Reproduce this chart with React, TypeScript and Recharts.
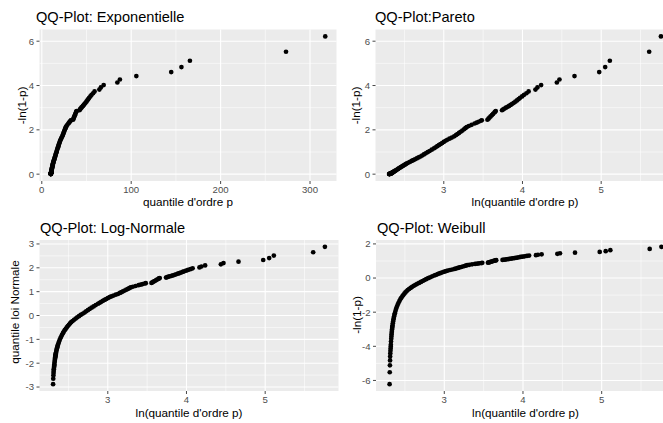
import { ScatterChart, Scatter, XAxis, YAxis, CartesianGrid } from "recharts";

// ln of the sorted sample values, one per plotted rank (n = 500, thinned where the cloud is dense)
const lnQuantile = [
  2.305, 2.307, 2.309, 2.311, 2.312, 2.314, 2.316, 2.318, 2.320, 2.321,
  2.323, 2.326, 2.328, 2.330, 2.332, 2.334, 2.336, 2.338, 2.340, 2.342,
  2.346, 2.350, 2.354, 2.358, 2.362, 2.367, 2.372, 2.380, 2.388, 2.397,
  2.408, 2.419, 2.430, 2.441, 2.453, 2.466, 2.479, 2.492, 2.506, 2.520,
  2.535, 2.553, 2.572, 2.592, 2.612, 2.634, 2.656, 2.680, 2.704, 2.725,
  2.747, 2.770, 2.795, 2.820, 2.847, 2.876, 2.896, 2.917, 2.938, 2.958,
  2.979, 3.000, 3.023, 3.045, 3.073, 3.102, 3.132, 3.155, 3.174, 3.194,
  3.214, 3.236, 3.257, 3.274, 3.291, 3.318, 3.353, 3.391, 3.418, 3.443,
  3.470, 3.483, 3.555, 3.568, 3.581, 3.595, 3.611, 3.626, 3.643, 3.652,
  3.660, 3.740, 3.755, 3.772, 3.790, 3.810, 3.830, 3.850, 3.870, 3.890,
  3.910, 3.930, 3.950, 3.970, 3.995, 4.020, 4.050, 4.078, 4.165, 4.190,
  4.237, 4.437, 4.470, 4.661, 4.975, 5.051, 5.110, 5.610, 5.759,
];

// -ln(1-p) at the same ranks
const expScore = [
  0.002, 0.004, 0.006, 0.008, 0.010, 0.012, 0.014, 0.016, 0.018, 0.020,
  0.024, 0.028, 0.032, 0.037, 0.041, 0.045, 0.049, 0.053, 0.058, 0.062,
  0.070, 0.079, 0.088, 0.096, 0.105, 0.116, 0.128, 0.146, 0.165, 0.186,
  0.210, 0.235, 0.261, 0.287, 0.314, 0.342, 0.370, 0.399, 0.430, 0.461,
  0.493, 0.526, 0.561, 0.596, 0.633, 0.671, 0.711, 0.753, 0.796, 0.841,
  0.889, 0.938, 0.991, 1.046, 1.105, 1.167, 1.213, 1.261, 1.311, 1.357,
  1.404, 1.454, 1.507, 1.553, 1.601, 1.652, 1.706, 1.762, 1.810, 1.860,
  1.913, 1.968, 2.027, 2.073, 2.122, 2.174, 2.228, 2.285, 2.325, 2.366,
  2.410, 2.432, 2.455, 2.503, 2.553, 2.606, 2.661, 2.720, 2.783, 2.815,
  2.849, 2.884, 2.921, 2.959, 2.998, 3.039, 3.081, 3.126, 3.172, 3.221,
  3.272, 3.326, 3.383, 3.444, 3.509, 3.578, 3.652, 3.732, 3.819, 3.914,
  4.019, 4.137, 4.271, 4.425, 4.607, 4.830, 5.118, 5.523, 6.217,
];

// standard normal quantile of p
const normScore = [
  -2.878, -2.652, -2.512, -2.409, -2.327, -2.259, -2.198, -2.145, -2.098, -2.054,
  -1.978, -1.911, -1.853, -1.800, -1.752, -1.707, -1.665, -1.626, -1.590, -1.556,
  -1.492, -1.434, -1.379, -1.330, -1.283, -1.228, -1.176, -1.100, -1.029, -0.956,
  -0.880, -0.808, -0.740, -0.676, -0.614, -0.555, -0.498, -0.441, -0.387, -0.334,
  -0.281, -0.230, -0.179, -0.128, -0.078, -0.028, 0.023, 0.073, 0.123, 0.174,
  0.224, 0.276, 0.329, 0.382, 0.436, 0.492, 0.532, 0.573, 0.614, 0.651,
  0.689, 0.727, 0.767, 0.801, 0.836, 0.872, 0.909, 0.947, 0.979, 1.012,
  1.046, 1.082, 1.118, 1.147, 1.176, 1.206, 1.238, 1.271, 1.294, 1.318,
  1.342, 1.354, 1.367, 1.393, 1.420, 1.447, 1.477, 1.507, 1.539, 1.556,
  1.573, 1.590, 1.608, 1.627, 1.646, 1.665, 1.686, 1.707, 1.729, 1.752,
  1.776, 1.800, 1.826, 1.852, 1.881, 1.912, 1.944, 1.978, 2.015, 2.054,
  2.098, 2.145, 2.198, 2.259, 2.327, 2.409, 2.512, 2.652, 2.878,
];

// ln(-ln(1-p))
const weibullScore = [
  -6.216, -5.521, -5.115, -4.826, -4.602, -4.419, -4.264, -4.129, -4.010, -3.904,
  -3.720, -3.563, -3.428, -3.308, -3.200, -3.103, -3.014, -2.932, -2.856, -2.785,
  -2.655, -2.540, -2.436, -2.340, -2.252, -2.152, -2.059, -1.925, -1.805, -1.683,
  -1.559, -1.447, -1.344, -1.248, -1.158, -1.074, -0.994, -0.918, -0.845, -0.775,
  -0.707, -0.642, -0.579, -0.517, -0.457, -0.398, -0.341, -0.284, -0.228, -0.173,
  -0.118, -0.064, -0.009, 0.045, 0.100, 0.154, 0.193, 0.232, 0.271, 0.305,
  0.340, 0.375, 0.410, 0.440, 0.471, 0.502, 0.534, 0.567, 0.593, 0.621,
  0.648, 0.677, 0.707, 0.729, 0.753, 0.776, 0.801, 0.826, 0.844, 0.861,
  0.880, 0.889, 0.898, 0.918, 0.937, 0.958, 0.979, 1.001, 1.023, 1.035,
  1.047, 1.059, 1.072, 1.085, 1.098, 1.111, 1.125, 1.140, 1.154, 1.170,
  1.186, 1.202, 1.219, 1.237, 1.255, 1.275, 1.295, 1.317, 1.340, 1.365,
  1.391, 1.420, 1.452, 1.487, 1.528, 1.575, 1.633, 1.709, 1.827,
];

const quantileTicks = [0, 100, 200, 300];
const quantileMinor = [50, 150, 250];
const lnTicks = [3, 4, 5];
const lnMinor = [2.5, 3.5, 4.5, 5.5];
const expTicks = [0, 2, 4, 6];
const expMinor = [1, 3, 5];
const normTicks = [-3, -2, -1, 0, 1, 2, 3];
const normMinor = [-2.5, -1.5, -0.5, 0.5, 1.5, 2.5];
const weibullTicks = [-6, -4, -2, 0, 2];
const weibullMinor = [-5, -3, -1, 1];

const FONT = "Liberation Sans, Arial, Helvetica, sans-serif";
const ROW_H = 211.5;

// ggplot-style expansion of the data range (5% by default)
const expand = (v: number[], mult = 0.05): [number, number] => {
  const lo = Math.min(...v);
  const hi = Math.max(...v);
  const d = (hi - lo) * mult;
  return [lo - d, hi + d];
};

const Dot = (props: any) => <circle cx={props.cx} cy={props.cy} r={2.35} fill="#000" />;

const tickStyle = { fill: "#4D4D4D", fontSize: 9.6, fontFamily: FONT };
const tickLineStyle = { stroke: "#333333", strokeWidth: 0.9 };

type PanelProps = {
  left: number;
  top: number;
  plotLeft: number;
  plotRight: number;
  plotTop: number;
  plotBottom: number;
  xs: number[];
  ys: number[];
  xDomain?: [number, number];
  xTicks: number[];
  xMinor: number[];
  yTicks: number[];
  yMinor: number[];
};

function Panel(p: PanelProps) {
  const data = p.xs.map((x, k) => ({ x, y: p.ys[k] }));
  return (
    <div style={{ position: "absolute", left: p.left, top: p.top }}>
      <ScatterChart
        width={p.plotRight - p.left}
        height={ROW_H}
        margin={{ top: p.plotTop - p.top, right: 0, bottom: 0, left: 0 }}
      >
        <CartesianGrid
          fill="#EBEBEB"
          stroke="#FFFFFF"
          strokeWidth={0.55}
          verticalValues={p.xMinor}
          horizontalValues={p.yMinor}
        />
        <CartesianGrid
          stroke="#FFFFFF"
          strokeWidth={1.1}
          verticalValues={p.xTicks}
          horizontalValues={p.yTicks}
        />
        <XAxis
          type="number"
          dataKey="x"
          domain={p.xDomain ?? expand(p.xs)}
          ticks={p.xTicks}
          interval={0}
          allowDataOverflow
          height={p.top + ROW_H - p.plotBottom}
          axisLine={false}
          tickLine={tickLineStyle}
          tickSize={3}
          tickMargin={2.5}
          tick={tickStyle}
        />
        <YAxis
          type="number"
          dataKey="y"
          domain={expand(p.ys)}
          ticks={p.yTicks}
          interval={0}
          allowDataOverflow
          width={p.plotLeft - p.left}
          axisLine={false}
          tickLine={tickLineStyle}
          tickSize={3}
          tickMargin={2.5}
          tick={tickStyle}
        />
        <Scatter data={data} shape={Dot} isAnimationActive={false} />
      </ScatterChart>
    </div>
  );
}

export default function App() {
  const quantile = lnQuantile.map((v) => Math.exp(v));
  return (
    <div
      style={{
        position: "fixed",
        left: 0,
        top: 0,
        width: 663,
        height: 423,
        overflow: "hidden",
        background: "#FFFFFF",
      }}
    >
      <Panel
        left={0}
        top={0}
        plotLeft={39.5}
        plotRight={336.5}
        plotTop={29.5}
        plotBottom={181}
        xs={quantile}
        ys={expScore}
        xDomain={expand(quantile, 0.041)}
        xTicks={quantileTicks}
        xMinor={quantileMinor}
        yTicks={expTicks}
        yMinor={expMinor}
      />
      <Panel
        left={338}
        top={0}
        plotLeft={375.5}
        plotRight={674.5}
        plotTop={29.5}
        plotBottom={181}
        xs={lnQuantile}
        ys={expScore}
        xTicks={lnTicks}
        xMinor={lnMinor}
        yTicks={expTicks}
        yMinor={expMinor}
      />
      <Panel
        left={0}
        top={209.5}
        plotLeft={39.5}
        plotRight={338.5}
        plotTop={239.5}
        plotBottom={390.5}
        xs={lnQuantile}
        ys={normScore}
        xTicks={lnTicks}
        xMinor={lnMinor}
        yTicks={normTicks}
        yMinor={normMinor}
      />
      <Panel
        left={338}
        top={209.5}
        plotLeft={376}
        plotRight={675}
        plotTop={239.5}
        plotBottom={390.5}
        xs={lnQuantile}
        ys={weibullScore}
        xTicks={lnTicks}
        xMinor={lnMinor}
        yTicks={weibullTicks}
        yMinor={weibullMinor}
      />

      {/* titles and axis titles */}
      <svg
        width={663}
        height={423}
        style={{ position: "absolute", left: 0, top: 0, pointerEvents: "none" }}
        fontFamily={FONT}
        fill="#000"
      >
        <text x={36} y={22} fontSize={14.6}>QQ-Plot: Exponentielle</text>
        <text x={375} y={22} fontSize={14.6}>QQ-Plot:Pareto</text>
        <text x={40} y={232.5} fontSize={14.6}>QQ-Plot: Log-Normale</text>
        <text x={377} y={232.5} fontSize={14.6}>QQ-Plot: Weibull</text>

        <text x={188} y={206} fontSize={11.7} textAnchor="middle">quantile d'ordre p</text>
        <text x={525} y={206} fontSize={11.7} textAnchor="middle">ln(quantile d'ordre p)</text>
        <text x={189} y={417} fontSize={11.7} textAnchor="middle">ln(quantile d'ordre p)</text>
        <text x={525.5} y={417} fontSize={11.7} textAnchor="middle">ln(quantile d'ordre p)</text>

        <text transform="translate(26 105.5) rotate(-90)" fontSize={11.7} textAnchor="middle">-ln(1-p)</text>
        <text transform="translate(359.5 105.5) rotate(-90)" fontSize={11.7} textAnchor="middle">-ln(1-p)</text>
        <text transform="translate(18.5 312) rotate(-90)" fontSize={11.7} textAnchor="middle">quantile loi Normale</text>
        <text transform="translate(361 315) rotate(-90)" fontSize={11.7} textAnchor="middle">-ln(1-p)</text>
      </svg>
    </div>
  );
}
